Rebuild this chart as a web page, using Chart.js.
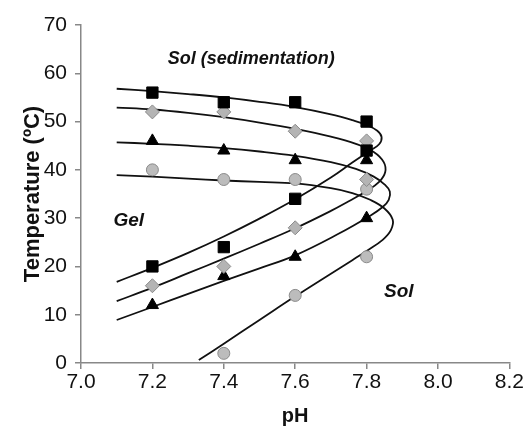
<!DOCTYPE html>
<html>
<head>
<meta charset="utf-8">
<script src="https://cdn.jsdelivr.net/npm/chart.js@4.4.0/dist/chart.umd.min.js"></script>
<style>
  html, body { margin: 0; padding: 0; background: #fff; }
  #wrap { width: 525px; height: 428px; }
</style>
</head>
<body>
<div id="wrap"><canvas id="phChart"></canvas></div>
<script>
// measured points (pH, T in ºC)
const phValues = [7.2, 7.4, 7.6, 7.8];
const squaresHigh = [56, 54, 54, 50];
const squaresLow = [20, 24, 34, 44];
const diamondsHigh = [52, 52, 48, 46];
const diamondsLow = [16, 20, 28, 38];
const trianglesHigh = [46, 44, 42, 42];
const trianglesLow = [12, 18, 22, 30];
const circlesHigh = [40, 38, 38, 36];
const circlesLow = [null, 2, 14, 22];

// fitted curves: [pH, T]
const curveSquares = [[7.10,56.8],[7.20,56.3],[7.30,55.7],[7.40,55.0],[7.50,54.1],[7.60,53.0],[7.70,51.5],[7.76,50.3],[7.80,49.3],[7.83,48.1],[7.842,46.8],[7.835,45.3],[7.81,44.0],[7.76,41.5],[7.70,38.4],[7.60,33.9],[7.50,29.9],[7.40,26.2],[7.30,22.8],[7.20,19.7],[7.10,16.8]];
const curveDiamonds = [[7.10,52.9],[7.20,52.5],[7.30,51.8],[7.40,50.9],[7.50,49.8],[7.60,48.5],[7.70,46.9],[7.77,45.4],[7.82,43.7],[7.848,41.6],[7.852,39.5],[7.835,37.5],[7.80,35.6],[7.75,33.5],[7.70,31.5],[7.60,27.9],[7.50,24.7],[7.40,21.6],[7.30,18.6],[7.20,15.6],[7.10,12.8]];
const curveTriangles = [[7.10,45.7],[7.20,45.4],[7.30,45.0],[7.40,44.5],[7.50,43.8],[7.60,42.9],[7.70,41.6],[7.77,40.2],[7.82,38.6],[7.85,37.0],[7.865,35.5],[7.862,33.8],[7.845,32.3],[7.81,30.5],[7.72,26.7],[7.60,22.3],[7.50,19.6],[7.40,17.0],[7.30,14.3],[7.20,11.6],[7.10,8.9]];
const curveCircles = [[7.10,38.9],[7.20,38.6],[7.30,38.2],[7.40,37.8],[7.50,37.5],[7.60,37.2],[7.70,36.2],[7.76,35.2],[7.81,33.8],[7.85,32.0],[7.873,29.7],[7.868,27.5],[7.845,25.5],[7.80,23.2],[7.76,21.3],[7.70,18.5],[7.60,13.8],[7.50,8.9],[7.40,4.0],[7.33,0.6]];

const xTicks = [7.0, 7.2, 7.4, 7.6, 7.8, 8.0, 8.2];
const yTicks = [0, 10, 20, 30, 40, 50, 60, 70];

// region labels: [text, pH, T]
const regionLabels = [
  ['Sol (sedimentation)', 7.477, 63.0],
  ['Gel', 7.134, 29.5],
  ['Sol', 7.89, 14.7]
];

const pairs = (hi, lo) => phValues.flatMap((x, i) => [{ x: x, y: hi[i] }, { x: x, y: lo[i] }]).filter(p => p.y !== null);
const curve = (arr) => arr.map(p => ({ x: p[0], y: p[1] }));

const lineSet = (arr) => ({
  data: curve(arr),
  showLine: true,
  borderColor: '#111',
  borderWidth: 1.8,
  pointRadius: 0,
  tension: 0.4,
  fill: false,
  order: 2
});

const markSet = (data, style, radius, fill, border) => ({
  data: data,
  showLine: false,
  pointStyle: style,
  pointRadius: radius,
  backgroundColor: fill,
  borderColor: border,
  borderWidth: 1,
  order: 1
});

const textPlugin = {
  id: 'regionText',
  afterDatasetsDraw(chart) {
    const { ctx, scales } = chart;
    ctx.save();
    ctx.fillStyle = '#111';
    ctx.textAlign = 'center';
    ctx.textBaseline = 'middle';
    regionLabels.forEach(([txt, x, y]) => {
      ctx.font = 'italic bold ' + (txt === 'Sol (sedimentation)' ? 18 : 19) + 'px "Liberation Sans", Arial, sans-serif';
      ctx.fillText(txt, scales.x.getPixelForValue(x), scales.y.getPixelForValue(y));
    });
    ctx.restore();
  }
};

const ctx = document.getElementById('phChart').getContext('2d');
new Chart(ctx, {
  type: 'scatter',
  data: {
    datasets: [
      lineSet(curveSquares),
      lineSet(curveDiamonds),
      lineSet(curveTriangles),
      lineSet(curveCircles),
      markSet(pairs(squaresHigh, squaresLow), 'rect', 8, '#000', '#000'),
      markSet(pairs(diamondsHigh, diamondsLow), 'rectRot', 7, '#b4b4b4', '#8a8a8a'),
      markSet(pairs(trianglesHigh, trianglesLow), 'triangle', 7, '#000', '#000'),
      markSet(pairs(circlesHigh, circlesLow), 'circle', 6, '#bcbcbc', '#8a8a8a')
    ]
  },
  options: {
    responsive: true,
    maintainAspectRatio: false,
    animation: false,
    layout: { padding: { top: 25, right: 15, left: 20, bottom: 0 } },
    plugins: {
      legend: { display: false },
      tooltip: { enabled: false }
    },
    scales: {
      x: {
        type: 'linear',
        min: 7.0,
        max: 8.2,
        afterBuildTicks: (s) => { s.ticks = xTicks.map(v => ({ value: v })); },
        afterFit: (s) => { s.height = 65; },
        ticks: {
          color: '#111',
          font: { size: 21, family: '"Liberation Sans", Arial, sans-serif' },
          padding: 1,
          callback: (v) => v.toFixed(1)
        },
        grid: { drawOnChartArea: false, drawTicks: true, tickLength: 6, color: '#888', lineWidth: 1.5 },
        border: { display: true, color: '#888', width: 1.5 },
        title: {
          display: true,
          text: 'pH',
          color: '#111',
          font: { size: 20, weight: 'bold', family: '"Liberation Sans", Arial, sans-serif' },
          padding: { top: 0, bottom: 0 }
        }
      },
      y: {
        type: 'linear',
        min: 0,
        max: 70,
        afterBuildTicks: (s) => { s.ticks = yTicks.map(v => ({ value: v })); },
        afterFit: (s) => { s.width = 61; },
        ticks: {
          color: '#111',
          font: { size: 21, family: '"Liberation Sans", Arial, sans-serif' },
          padding: 8
        },
        grid: { drawOnChartArea: false, drawTicks: true, tickLength: 6, color: '#888', lineWidth: 1.5 },
        border: { display: true, color: '#888', width: 1.5 },
        title: {
          display: true,
          text: 'Temperature (ºC)',
          color: '#111',
          font: { size: 22, weight: 'bold', family: '"Liberation Sans", Arial, sans-serif' },
          padding: { top: 0, bottom: 0 }
        }
      }
    }
  },
  plugins: [textPlugin]
});
</script>
</body>
</html>
